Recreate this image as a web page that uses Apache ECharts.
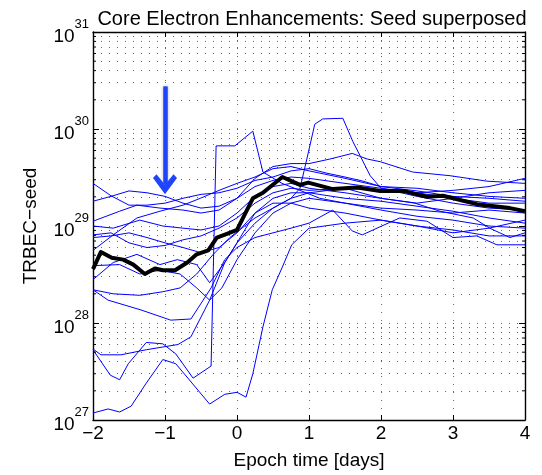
<!DOCTYPE html>
<html>
<head>
<meta charset="utf-8">
<script src="https://cdn.jsdelivr.net/npm/echarts@6/dist/echarts.min.js"></script>
<style>
  html, body { margin: 0; padding: 0; background: #fff; }
  #chart { width: 542px; height: 475px; }
</style>
</head>
<body>
<div id="chart"></div>
<script>
// epoch time [days] vs TRBEC-seed, one list per event, plus the superposed mean
var yMin = 1e27, yMax = 1e31;
var minorMultipliers = [2, 3, 4, 5, 6, 7, 8, 9];
var decades = [27, 28, 29, 30];

// arrow marking the seed onset (day, from value, to value)
var arrowDay = -1;
var arrowTop = 2.75e30;
var arrowEnd = 2.7e29;

var meanSeed = [[-2,3.6e28],[-1.89,5.4e28],[-1.74,4.7e28],[-1.58,4.5e28],[-1.44,4.0e28],[-1.28,3.2e28],
  [-1.14,3.65e28],[-1.03,3.5e28],[-0.86,3.5e28],[-0.69,4.2e28],[-0.56,5.1e28],[-0.4,5.6e28],[-0.28,7.6e28],
  [-0.14,8.3e28],[0,9.1e28],[0.22,1.93e29],[0.36,2.2e29],[0.63,3.2e29],[0.875,2.65e29],[0.99,2.8e29],
  [1.33,2.4e29],[1.67,2.5e29],[1.99,2.3e29],[2.31,2.3e29],[2.64,2.0e29],[2.86,2.05e29],[3.33,1.68e29],
  [3.79,1.53e29],[4,1.42e29]];

var eventA = [[-2,2.75e29],[-1.75,2.05e29],[-1.5,1.64e29],[-1.25,1.64e29],[-1,1.72e29],[-0.75,1.93e29],[-0.5,2.12e29],
  [-0.25,2.2e29],[0,2.45e29],[0.25,2.95e29],[0.5,3.2e29],[0.75,3.7e29],[1,3.9e29],[1.25,3.5e29],[1.5,3.2e29],
  [1.75,2.9e29],[2,2.55e29],[2.5,2.3e29],[3,2.02e29],[3.5,1.93e29],[4,1.8e29]];
var eventB = [[-2,1.12e29],[-1.63,1.42e29],[-1.39,1.64e29],[-1.07,1.53e29],[-0.75,1.46e29],[-0.5,1.36e29],[-0.25,1.46e29],
  [0,1.93e29],[0.25,3.1e29],[0.5,4.1e29],[0.75,4.4e29],[1,4.4e29],[1.29,4.9e29],[1.6,5.6e29],[1.81,4.9e29],
  [1.99,4.6e29],[2.44,3.6e29],[2.96,3.3e29],[3.47,2.9e29],[4,2.75e29]];
var eventC = [[-2,1.0e29],[-1.72,9.5e28],[-1.35,1.15e29],[-1.03,1.0e29],[-0.75,9.5e28],[-0.5,9.1e28],[-0.25,1.0e29],
  [0,1.36e29],[0.25,2.02e29],[0.5,2.55e29],[0.75,2.75e29],[1,2.45e29],[1.5,2.2e29],[2,1.93e29],[2.5,1.72e29],
  [3,1.93e29],[3.5,2.2e29],[4,2.33e29]];
var eventD = [[-2,8.1e28],[-1.75,8.5e28],[-1.5,6.7e28],[-1.25,6.0e28],[-1,6.3e28],[-0.75,7.2e28],[-0.5,7.9e28],
  [-0.25,9.5e28],[0,1.21e29],[0.25,1.72e29],[0.5,2.2e29],[0.75,2.45e29],[1,2.33e29],[1.5,2.45e29],[2,2.33e29],
  [2.5,2.2e29],[3,2.33e29],[3.5,2.55e29],[4,3.1e29]];
var eventE = [[-2,7.6e28],[-1.75,7.9e28],[-1.5,8.5e28],[-1.25,7.6e28],[-1,6.7e28],[-0.75,6.0e28],[-0.5,5.3e28],
  [-0.25,6.0e28],[0,8.5e28],[0.25,1.36e29],[0.5,1.72e29],[0.75,1.72e29],[1,1.53e29],[1.5,1.36e29],[2,1.15e29],
  [2.5,1.0e29],[3,9.1e28],[3.5,7.9e28],[4,7.9e28]];
var eventF = [[-2,3.9e28],[-1.63,4.0e28],[-1.35,3.2e28],[-1.07,3.5e28],[-0.79,3.2e28],[-0.56,2.3e28],[-0.38,1.72e28],
  [-0.21,2.3e28],[0,4.5e28],[0.25,8.5e28],[0.5,1.36e29],[0.75,1.72e29],[1,1.93e29],[1.5,1.72e29],[2,1.53e29],
  [2.5,1.46e29],[3,1.36e29],[3.5,1.46e29],[4,1.36e29]];
var eventG = [[-2,2.8e28],[-1.72,4.2e28],[-1.39,5.1e28],[-1.07,4.0e28],[-0.83,4.5e28],[-0.56,4.0e28],[-0.38,2.6e28],
  [-0.17,4.2e28],[0,6.7e28],[0.25,1.36e29],[0.5,1.93e29],[0.75,2.2e29],[1,2.2e29],[1.5,1.93e29],[2,1.8e29],
  [2.5,1.6e29],[3,1.42e29],[3.5,1.21e29],[4,1.07e29]];
var eventH = [[-2,1.8e29],[-1.75,2.02e29],[-1.5,2.3e29],[-1.25,2.2e29],[-1,2.02e29],[-0.75,1.72e29],[-0.5,1.53e29],
  [-0.25,1.6e29],[0,1.93e29],[0.25,2.55e29],[0.5,2.95e29],[0.75,3.2e29],[1,3.1e29],[1.5,2.75e29],[2,2.45e29],
  [2.5,2.02e29],[3,1.72e29],[3.5,1.53e29],[4,1.46e29]];
var eventL = [[-2,1.18e27],[-1.79,1.3e27],[-1.63,1.21e27],[-1.47,1.39e27],[-1.26,2.4e27],[-1.03,4.2e27],[-0.85,3.8e27],
  [-0.38,1.46e27],[-0.17,1.84e27],[0,1.93e27],[0.125,1.72e27],[0.22,3.0e27],[0.36,9.1e27],[0.49,2.2e28],
  [0.625,3.7e28],[0.76,6.4e28],[1,9.5e28],[1.5,1.07e29],[2,1.15e29],[2.5,1.0e29],[3,8.5e28],[3.5,9.5e28],[4,1.15e29]];
var eventM = [[-2,5.3e27],[-1.76,2.9e27],[-1.63,2.6e27],[-1.51,3.8e27],[-1.26,6.3e27],[-1.03,6.1e27],[-0.85,4.8e27],
  [-0.61,2.7e27],[-0.36,3.6e27],[-0.29,6.7e29],[-0.03,6.7e29],[0.22,9.5e29],[0.36,3.6e29],[0.625,2.75e29],
  [0.875,2.33e29],[1.15,1.93e29],[1.5,1.72e29],[2,1.46e29],[2.5,1.26e29],[3,1.15e29],[3.5,1.0e29],[4,9.5e28]];
var eventN = [[-2,5.4e27],[-1.89,4.7e27],[-1.61,4.7e27],[-1.26,5.3e27],[-0.82,6.0e27],[-0.64,7.2e27],[-0.38,1.72e28],
  [-0.17,4.2e28],[0,6.7e28],[0.25,1.07e29],[0.5,1.53e29],[0.75,1.93e29],[1,2.2e29],[1.5,2.45e29],[2,1.93e29],
  [2.47,1.72e29],[2.82,1.42e29],[3.28,1.21e29],[3.51,9.5e28],[3.79,7.6e28],[4,8.5e28]];
var eventO = [[-2,2.2e28],[-1.79,1.72e28],[-1.33,1.36e28],[-0.92,1.07e28],[-0.64,1.1e28],[-0.36,2.3e28],[-0.17,4.5e28],
  [0,6.0e28],[0.25,7.6e28],[0.5,8.5e28],[0.75,9.5e28],[1,1.07e29],[1.33,1.46e29],[1.6,8.9e28],[1.74,8.1e28],
  [2.01,1.0e29],[2.26,1.21e29],[2.64,1.12e29],[3,7.6e28],[3.33,7.9e28],[3.61,6.4e28],[4,6.4e28]];
var eventP = [[-2,2.2e28],[-1.72,2.0e28],[-1.35,1.93e28],[-1.03,2.1e28],[-0.79,2.3e28],[-0.56,3.2e28],[-0.33,5.1e28],
  [-0.1,7.6e28],[0.25,1.21e29],[0.5,1.53e29],[0.75,1.93e29],[0.875,2.45e29],[0.97,4.9e29],[1.08,1.12e30],
  [1.19,1.27e30],[1.47,1.29e30],[1.61,7.4e29],[1.71,5.3e29],[1.85,3.3e29],[2,2.45e29],[2.5,2.2e29],[3,1.93e29],
  [3.5,1.72e29],[4,1.72e29]];
var eventQ = [[-2,5.6e28],[-1.72,8.1e28],[-1.39,1.21e29],[-1.07,1.42e29],[-0.75,1.64e29],[-0.51,1.93e29],[-0.25,2.33e29],
  [0,2.75e29],[0.25,3.2e29],[0.5,3.9e29],[0.75,4.1e29],[1,3.7e29],[1.5,3.1e29],[2,2.55e29],[2.5,2.45e29],
  [3,2.2e29],[3.5,2.02e29],[4,1.93e29]];

var events = [eventA, eventB, eventC, eventD, eventE, eventF, eventG, eventH,
              eventL, eventM, eventN, eventO, eventP, eventQ];

var FONT = '"Liberation Sans", Arial, sans-serif';
var chart = echarts.init(document.getElementById('chart'));

// dotted minor grid at 2..9 x 10^n
var minorGrid = [];
decades.forEach(function (d) {
  minorMultipliers.forEach(function (m) {
    minorGrid.push({ yAxis: m * Math.pow(10, d) });
  });
});

var dotted = { color: '#000', width: 1, type: [1, 7], opacity: 0.6 };

var series = [{
  type: 'line',
  data: [[-2, yMin]],
  symbol: 'none',
  lineStyle: { opacity: 0 },
  silent: true,
  markLine: {
    silent: true,
    symbol: 'none',
    label: { show: false },
    lineStyle: dotted,
    data: minorGrid
  }
}];

events.forEach(function (ev) {
  series.push({
    type: 'line',
    data: ev,
    symbol: 'none',
    silent: true,
    lineStyle: { color: '#0000ff', width: 1 }
  });
});

series.push({
  type: 'line',
  data: meanSeed,
  symbol: 'none',
  silent: true,
  z: 5,
  lineStyle: { color: '#000', width: 4, join: 'round' },
  markLine: {
    silent: true,
    symbol: ['none', 'path://M0,13 L12,0 L24,13 L20.5,16 L12,7.5 L3.5,16 Z'],
    symbolSize: [24, 20],
    label: { show: false },
    lineStyle: { color: '#1f45fc', width: 4.5, type: 'solid',
      shadowColor: 'rgba(0,0,90,0.35)', shadowBlur: 3 },
    itemStyle: { color: '#1f45fc' },
    data: [[{ coord: [arrowDay, arrowTop] }, { coord: [arrowDay, arrowEnd] }]]
  }
});

var axisLineStyle = { color: '#000', width: 1.4 };

var option = {
  backgroundColor: '#fff',
  animation: false,
  title: {
    text: 'Core Electron Enhancements: Seed superposed',
    left: 307, top: 4, textAlign: 'center',
    textStyle: { fontFamily: FONT, fontSize: 20, fontWeight: 'normal', color: '#000' }
  },
  grid: { left: 93, right: 17, top: 32, bottom: 51 },
  xAxis: [{
    type: 'value', min: -2, max: 4, interval: 1,
    name: 'Epoch time [days]', nameLocation: 'middle', nameGap: 31,
    nameTextStyle: { fontFamily: FONT, fontSize: 19, color: '#000' },
    axisLine: { onZero: false, lineStyle: axisLineStyle },
    axisTick: { inside: true, length: 5, lineStyle: { color: '#000' } },
    axisLabel: { fontFamily: FONT, fontSize: 19, color: '#000', margin: 4,
      formatter: function (v) { return String(v).replace('-', '\u2212'); } },
    splitLine: { show: true, lineStyle: dotted }
  }, {
    type: 'value', min: -2, max: 4, interval: 1, position: 'top',
    axisLine: { onZero: false, lineStyle: axisLineStyle },
    axisTick: { inside: true, length: 5, lineStyle: { color: '#000' } },
    axisLabel: { show: false },
    splitLine: { show: false }
  }],
  yAxis: [{
    type: 'log', logBase: 10, min: yMin, max: yMax, splitNumber: 4,
    name: 'TRBEC\u2212seed', nameLocation: 'middle', nameGap: 53,
    nameTextStyle: { fontFamily: FONT, fontSize: 19, color: '#000' },
    axisLine: { onZero: false, lineStyle: axisLineStyle },
    axisTick: { inside: true, length: 6, lineStyle: { color: '#000' } },
    axisLabel: {
      margin: 4,
      formatter: function (v) {
        return '{b|10}{s|' + Math.round(Math.log10(v)) + '}';
      },
      rich: {
        b: { fontFamily: FONT, fontSize: 19, color: '#000', padding: [9, 0, 0, 0], verticalAlign: 'bottom' },
        s: { fontFamily: FONT, fontSize: 13, color: '#000', verticalAlign: 'top' }
      }
    },
    splitLine: { show: true, lineStyle: dotted }
  }, {
    type: 'log', logBase: 10, min: yMin, max: yMax, splitNumber: 4, position: 'right',
    axisLine: { onZero: false, lineStyle: axisLineStyle },
    axisTick: { inside: true, length: 6, lineStyle: { color: '#000' } },
    axisLabel: { show: false },
    splitLine: { show: false }
  }],
  series: series
};

chart.setOption(option);

// minor ticks on the log axes, placed through the axis scale
var ticks = [];
var leftX = chart.convertToPixel({ xAxisIndex: 0 }, -2);
var rightX = chart.convertToPixel({ xAxisIndex: 0 }, 4);
minorGrid.forEach(function (g) {
  var py = chart.convertToPixel({ yAxisIndex: 0 }, g.yAxis);
  ticks.push({ type: 'line', silent: true, z: 10,
    shape: { x1: leftX, y1: py, x2: leftX + 3, y2: py }, style: { stroke: '#000', lineWidth: 1 } });
  ticks.push({ type: 'line', silent: true, z: 10,
    shape: { x1: rightX - 3, y1: py, x2: rightX, y2: py }, style: { stroke: '#000', lineWidth: 1 } });
});
chart.setOption({ graphic: ticks });
</script>
</body>
</html>
